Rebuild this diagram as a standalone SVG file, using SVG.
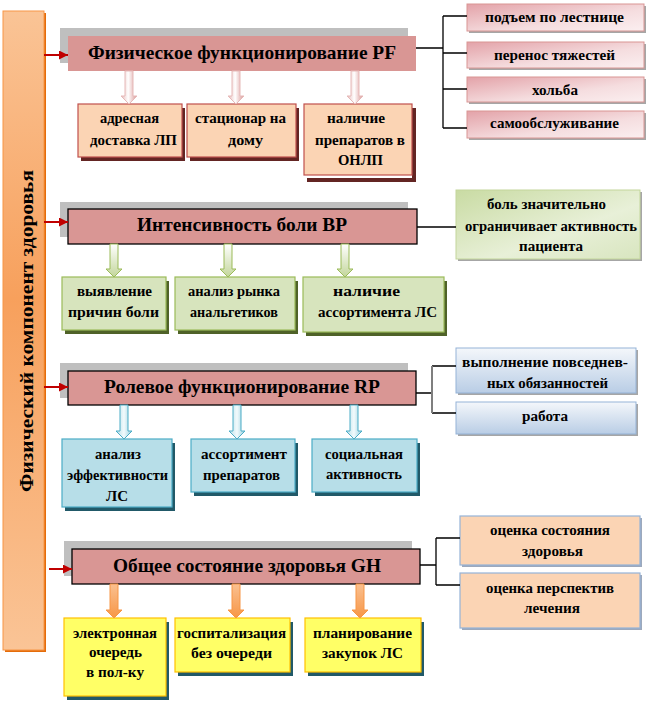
<svg xmlns="http://www.w3.org/2000/svg" width="647" height="703" viewBox="0 0 647 703">
<defs>
<linearGradient id="gBar" x1="0" y1="0" x2="0" y2="1">
<stop offset="0" stop-color="#FAC496"/><stop offset="0.45" stop-color="#F7A05C"/><stop offset="1" stop-color="#FAC496"/>
</linearGradient>
<linearGradient id="gPink" x1="0" y1="0" x2="1" y2="1">
<stop offset="0" stop-color="#E3A2A8"/><stop offset="0.6" stop-color="#F5DDDF"/><stop offset="1" stop-color="#FBEFF0"/>
</linearGradient>
<linearGradient id="gGreen" x1="0" y1="0" x2="1" y2="1">
<stop offset="0" stop-color="#C9DBA3"/><stop offset="0.6" stop-color="#E8F0D8"/><stop offset="1" stop-color="#D8E5BF"/>
</linearGradient>
<linearGradient id="gBlue" x1="0" y1="0" x2="0" y2="1">
<stop offset="0" stop-color="#F4F7FB"/><stop offset="1" stop-color="#B9CDE5"/>
</linearGradient>
<linearGradient id="aPink" x1="0" y1="0" x2="1" y2="0">
<stop offset="0" stop-color="#E6B9B8"/><stop offset="0.45" stop-color="#FFFFFF"/><stop offset="1" stop-color="#D99694"/>
</linearGradient>
<linearGradient id="aGreen" x1="0" y1="0" x2="0" y2="1">
<stop offset="0" stop-color="#FFFFFF"/><stop offset="1" stop-color="#C3D69B"/>
</linearGradient>
<linearGradient id="aBlue" x1="0" y1="0" x2="1" y2="0">
<stop offset="0" stop-color="#B7DEE8"/><stop offset="0.5" stop-color="#F2FAFC"/><stop offset="1" stop-color="#93CDDD"/>
</linearGradient>
<linearGradient id="aOrange" x1="0" y1="0" x2="0" y2="1">
<stop offset="0" stop-color="#FAC090"/><stop offset="1" stop-color="#F79646"/>
</linearGradient>
<marker id="red" viewBox="0 0 8 8" refX="8" refY="4" markerWidth="9" markerHeight="9" markerUnits="userSpaceOnUse" orient="auto">
<path d="M0,0 L8,4 L0,8 Z" fill="#C00000"/>
</marker>
</defs>
<style>
text{font-family:'Liberation Serif','DejaVu Serif',serif;font-weight:bold;fill:#000;text-anchor:middle}
.h{font-size:19px}
.t{font-size:14px}
.gray{fill:#BFBFBF}
.head{fill:#D99694}
.hb{stroke:#000;stroke-width:1.3}
.c1{fill:#FBD4B4;stroke:#C0504D;stroke-width:1.2}
.s1{fill:#632523}
.c2{fill:#D7E4BD;stroke:#9BBB59;stroke-width:1.2}
.s2{fill:#4F6228}
.c3{fill:#B7DEE8;stroke:#4BACC6;stroke-width:1.2}
.s3{fill:#215968}
.c4{fill:#FFFF66;stroke:#FFC000;stroke-width:1.2}
.s4{fill:#215968}
.rs{fill:#A6A6A6}
.rp{fill:url(#gPink);stroke:#D99694;stroke-width:1}
.rg{fill:url(#gGreen);stroke:#C3D69B;stroke-width:1}
.rb{fill:url(#gBlue);stroke:#95B3D7;stroke-width:1}
.ro{fill:#FBD4B4;stroke:#95B3D7;stroke-width:1.2}
.ros{fill:#9DA9BC}
.ap{fill:url(#aPink);stroke:#E6B9B8;stroke-width:1}
.ag{fill:url(#aGreen);stroke:#9BBB59;stroke-width:1}
.ab{fill:url(#aBlue);stroke:#4BACC6;stroke-width:1}
.ao{fill:url(#aOrange);stroke:#F79646;stroke-width:1}
.ln{stroke:#000;stroke-width:1.3;fill:none}
.rl{stroke:#C00000;stroke-width:2;fill:none;marker-end:url(#red)}
</style>

<g id="bar">
<rect x="5" y="13" width="41" height="639" fill="#E46C0A"/>
<rect x="3" y="11" width="41" height="639" fill="url(#gBar)" stroke="#F79646" stroke-width="1"/>
<text transform="translate(33,331) rotate(-90)" style="font-size:19px" textLength="322" lengthAdjust="spacingAndGlyphs">Физический  компонент  здоровья</text>
</g>

<g id="pf">
<rect class="gray" x="60" y="28" width="348" height="35"/>
<rect class="head" x="68" y="36" width="348" height="35"/>
<text class="h" x="242" y="59" textLength="308" lengthAdjust="spacingAndGlyphs">Физическое функционирование PF</text>
</g>
<g id="pf1">
<rect class="s1" x="81" y="108" width="104" height="53"/>
<rect class="c1" x="78" y="104" width="104" height="53"/>
<text class="t" x="129.5" y="123" textLength="59" lengthAdjust="spacingAndGlyphs">адресная</text>
<text class="t" x="133.5" y="145" textLength="87" lengthAdjust="spacingAndGlyphs">доставка ЛП</text>
</g>
<g id="pf2">
<rect class="s1" x="190" y="108" width="109" height="53"/>
<rect class="c1" x="187" y="104" width="109" height="53"/>
<text class="t" x="240.5" y="123" textLength="91" lengthAdjust="spacingAndGlyphs">стационар на</text>
<text class="t" x="245.5" y="145" textLength="35" lengthAdjust="spacingAndGlyphs">дому</text>
</g>
<g id="pf3">
<rect class="s1" x="307" y="178" width="109" height="4"/>
<rect class="s1" x="412" y="108" width="4" height="74"/>
<rect class="c1" x="304" y="104" width="108" height="71"/>
<text class="t" x="356" y="123" textLength="58" lengthAdjust="spacingAndGlyphs">наличие</text>
<text class="t" x="360" y="145" textLength="90" lengthAdjust="spacingAndGlyphs">препаратов в</text>
<text class="t" x="360.5" y="165" textLength="45" lengthAdjust="spacingAndGlyphs">ОНЛП</text>
</g>
<g id="pf-r1">
<rect class="rs" x="469" y="6" width="177" height="27"/>
<rect class="rp" x="467" y="4" width="177" height="27"/>
<text class="t" x="554.5" y="22" textLength="139" lengthAdjust="spacingAndGlyphs">подъем по лестнице</text>
</g>
<g id="pf-r2">
<rect class="rs" x="469" y="44" width="177" height="26"/>
<rect class="rp" x="467" y="42" width="177" height="26"/>
<text class="t" x="554.5" y="60" textLength="121" lengthAdjust="spacingAndGlyphs">перенос тяжестей</text>
</g>
<g id="pf-r3">
<rect class="rs" x="469" y="79" width="177" height="25"/>
<rect class="rp" x="467" y="77" width="177" height="25"/>
<text class="t" x="555" y="95" textLength="46" lengthAdjust="spacingAndGlyphs">хольба</text>
</g>
<g id="pf-r4">
<rect class="rs" x="469" y="113" width="177" height="27"/>
<rect class="rp" x="467" y="111" width="177" height="27"/>
<text class="t" x="554.5" y="128" textLength="129" lengthAdjust="spacingAndGlyphs">самообслуживание</text>
</g>

<g id="bp">
<rect class="gray" x="60" y="202" width="348" height="35"/>
<rect class="head hb" x="68" y="209" width="349" height="35"/>
<text class="h" x="242" y="231" textLength="210" lengthAdjust="spacingAndGlyphs">Интенсивность боли BP</text>
</g>
<g id="bp1">
<rect class="s2" x="65" y="281" width="104" height="53"/>
<rect class="c2" x="62" y="277" width="104" height="53"/>
<text class="t" x="114.5" y="296" textLength="75" lengthAdjust="spacingAndGlyphs">выявление</text>
<text class="t" x="113.5" y="317" textLength="91" lengthAdjust="spacingAndGlyphs">причин боли</text>
</g>
<g id="bp2">
<rect class="s2" x="178" y="281" width="120" height="53"/>
<rect class="c2" x="175" y="277" width="120" height="53"/>
<text class="t" x="234" y="296" textLength="92" lengthAdjust="spacingAndGlyphs">анализ рынка</text>
<text class="t" x="234" y="317" textLength="88" lengthAdjust="spacingAndGlyphs">анальгетиков</text>
</g>
<g id="bp3">
<rect class="s2" x="306" y="281" width="141" height="55"/>
<rect class="c2" x="303" y="277" width="141" height="55"/>
<text class="t" x="366.5" y="296" textLength="67" lengthAdjust="spacingAndGlyphs">наличие</text>
<text class="t" x="377.5" y="317" textLength="119" lengthAdjust="spacingAndGlyphs">ассортимента ЛС</text>
</g>
<g id="bp-r">
<rect class="rs" x="458" y="192" width="184" height="69"/>
<rect class="rg" x="456" y="190" width="184" height="69"/>
<text class="t" x="546.5" y="209" textLength="119" lengthAdjust="spacingAndGlyphs">боль значительно</text>
<text class="t" x="551" y="231" textLength="172" lengthAdjust="spacingAndGlyphs">ограничивает активность</text>
<text class="t" x="551" y="251" textLength="64" lengthAdjust="spacingAndGlyphs">пациента</text>
</g>

<g id="rp">
<rect class="gray" x="60" y="363" width="348" height="35"/>
<rect class="head hb" x="68" y="371" width="348" height="34"/>
<text class="h" x="242" y="393" textLength="276" lengthAdjust="spacingAndGlyphs">Ролевое функционирование RP</text>
</g>
<g id="rp1">
<rect class="s3" x="65" y="443" width="110" height="68"/>
<rect class="c3" x="62" y="439" width="110" height="68"/>
<text class="t" x="118" y="459" textLength="46" lengthAdjust="spacingAndGlyphs">анализ</text>
<text class="t" x="117.5" y="480" textLength="101" lengthAdjust="spacingAndGlyphs">эффективности</text>
<text class="t" x="117" y="501" textLength="22" lengthAdjust="spacingAndGlyphs">ЛС</text>
</g>
<g id="rp2">
<rect class="s3" x="194" y="443" width="104" height="53"/>
<rect class="c3" x="191" y="439" width="104" height="53"/>
<text class="t" x="244" y="459" textLength="86" lengthAdjust="spacingAndGlyphs">ассортимент</text>
<text class="t" x="241.5" y="480" textLength="77" lengthAdjust="spacingAndGlyphs">препаратов</text>
</g>
<g id="rp3">
<rect class="s3" x="315" y="443" width="105" height="53"/>
<rect class="c3" x="312" y="439" width="105" height="53"/>
<text class="t" x="364" y="459" textLength="78" lengthAdjust="spacingAndGlyphs">социальная</text>
<text class="t" x="364" y="479" textLength="76" lengthAdjust="spacingAndGlyphs">активность</text>
</g>
<g id="rp-r1">
<rect class="rs" x="458" y="350" width="180" height="45"/>
<rect class="rb" x="456" y="348" width="180" height="45"/>
<text class="t" x="545" y="367" textLength="166" lengthAdjust="spacingAndGlyphs">выполнение повседнев-</text>
<text class="t" x="547.5" y="388" textLength="121" lengthAdjust="spacingAndGlyphs">ных обязанностей</text>
</g>
<g id="rp-r2">
<rect class="rs" x="458" y="404" width="180" height="32"/>
<rect class="rb" x="456" y="402" width="180" height="32"/>
<text class="t" x="545" y="421" textLength="46" lengthAdjust="spacingAndGlyphs">работа</text>
</g>

<g id="gh">
<rect class="gray" x="64" y="541" width="348" height="35"/>
<rect class="head hb" x="72" y="549" width="348" height="35"/>
<text class="h" x="247" y="572" textLength="268" lengthAdjust="spacingAndGlyphs">Общее состояние здоровья GH</text>
</g>
<g id="gh1">
<rect class="s4" x="67" y="622" width="102" height="78"/>
<rect class="c4" x="64" y="618" width="102" height="78"/>
<text class="t" x="115" y="638" textLength="84" lengthAdjust="spacingAndGlyphs">электронная</text>
<text class="t" x="115.5" y="657" textLength="53" lengthAdjust="spacingAndGlyphs">очередь</text>
<text class="t" x="115" y="677" textLength="58" lengthAdjust="spacingAndGlyphs">в пол-ку</text>
</g>
<g id="gh2">
<rect class="s4" x="178" y="622" width="115" height="54"/>
<rect class="c4" x="175" y="618" width="115" height="54"/>
<text class="t" x="231.5" y="638" textLength="109" lengthAdjust="spacingAndGlyphs">госпитализация</text>
<text class="t" x="231.5" y="658" textLength="81" lengthAdjust="spacingAndGlyphs">без очереди</text>
</g>
<g id="gh3">
<rect class="s4" x="308" y="622" width="116" height="54"/>
<rect class="c4" x="305" y="618" width="116" height="54"/>
<text class="t" x="362.5" y="638" textLength="99" lengthAdjust="spacingAndGlyphs">планирование</text>
<text class="t" x="362.5" y="658" textLength="81" lengthAdjust="spacingAndGlyphs">закупок  ЛС</text>
</g>
<g id="gh-r1">
<rect class="ros" x="462" y="518" width="180" height="49"/>
<rect class="ro" x="460" y="516" width="180" height="49"/>
<text class="t" x="550" y="535" textLength="120" lengthAdjust="spacingAndGlyphs">оценка состояния</text>
<text class="t" x="552.5" y="556" textLength="61" lengthAdjust="spacingAndGlyphs">здоровья</text>
</g>
<g id="gh-r2">
<rect class="ros" x="462" y="575" width="180" height="55"/>
<rect class="ro" x="460" y="573" width="180" height="55"/>
<text class="t" x="550" y="593" textLength="128" lengthAdjust="spacingAndGlyphs">оценка перспектив</text>
<text class="t" x="552" y="613" textLength="56" lengthAdjust="spacingAndGlyphs">лечения</text>
</g>

<g id="connectors">
<line class="rl" x1="44" y1="55" x2="68" y2="55"/>
<line class="rl" x1="44" y1="222" x2="68" y2="222"/>
<line class="rl" x1="44" y1="387" x2="68" y2="387"/>
<line class="rl" x1="49" y1="569" x2="72" y2="569"/>
<path class="ln" d="M416,48 H443 M443,16 V128 M443,16 H467 M443,53 H467 M443,89 H467 M443,128 H467"/>
<path class="ln" d="M417,227 H456"/>
<path class="ln" d="M416,393 H432 M432,366 H456 M432,413 H456"/>
<path d="M432,366 V413" stroke="#7F7F7F" stroke-width="2"/>
<path class="ln" d="M420,565 H436 M436,538 V585 M436,538 H460 M436,585 H460"/>
<path class="ap" d="M125,71 H133 V96 H137 L129,104 L121,96 H125 Z"/>
<path class="ap" d="M232,71 H240 V96 H244 L236,104 L228,96 H232 Z"/>
<path class="ap" d="M351,71 H359 V96 H363 L355,104 L347,96 H351 Z"/>
<path class="ag" d="M110,244 H118 V269 H122 L114,277 L106,269 H110 Z"/>
<path class="ag" d="M224,244 H232 V269 H236 L228,277 L220,269 H224 Z"/>
<path class="ag" d="M341,244 H349 V269 H353 L345,277 L337,269 H341 Z"/>
<path class="ab" d="M120,405 H128 V431 H132 L124,439 L116,431 H120 Z"/>
<path class="ab" d="M233,405 H241 V431 H245 L237,439 L229,431 H233 Z"/>
<path class="ab" d="M350,405 H358 V431 H362 L354,439 L346,431 H350 Z"/>
<path class="ao" d="M110,584 H118 V610 H122 L114,618 L106,610 H110 Z"/>
<path class="ao" d="M232,584 H240 V610 H244 L236,618 L228,610 H232 Z"/>
<path class="ao" d="M356,584 H364 V610 H368 L360,618 L352,610 H356 Z"/>
</g>
</svg>
